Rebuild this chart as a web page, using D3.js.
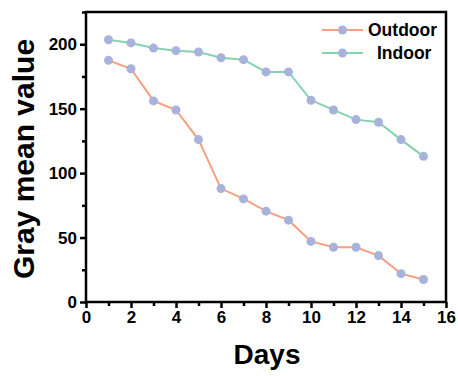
<!DOCTYPE html>
<html>
<head>
<meta charset="utf-8">
<script src="https://cdn.jsdelivr.net/npm/d3@7"></script>
<style>
  html, body { margin: 0; padding: 0; background: #fff; }
  svg { display: block; font-family: "Liberation Sans", Arial, sans-serif; }
</style>
</head>
<body>
<svg id="chart" width="458" height="376"></svg>
<script>
// Gray mean value over 15 days for two storage conditions
const days = [1, 2, 3, 4, 5, 6, 7, 8, 9, 10, 11, 12, 13, 14, 15];
const outdoor = [187.5, 181, 156, 149, 126, 88, 80, 70.5, 63.5, 47, 42.5, 42.5, 36, 22, 17.5];
const indoor = [203.5, 201, 197, 195, 194, 189.5, 188, 178.5, 178.5, 156.5, 149, 141.5, 139.5, 126, 113];
const seriesNames = ["Outdoor", "Indoor"];
const xTicks = [0, 2, 4, 6, 8, 10, 12, 14, 16];
const yTicks = [0, 50, 100, 150, 200];

const lineColors = { Outdoor: "#f5a07e", Indoor: "#87d2ae" };
const markerColor = "#a8b3dc";

const svg = d3.select("#chart");
const plotLeft = 86, plotRight = 446, plotTop = 12, plotBottom = 302;

const x = d3.scaleLinear().domain([0, 16]).range([plotLeft, plotRight]);
const y = d3.scaleLinear().domain([0, 225]).range([plotBottom, plotTop]);

const series = [
  { name: seriesNames[0], values: outdoor },
  { name: seriesNames[1], values: indoor }
];

// Lines and markers
const line = d3.line().x((d, i) => x(days[i])).y(d => y(d));
series.forEach(s => {
  svg.append("path")
    .datum(s.values)
    .attr("d", line)
    .attr("fill", "none")
    .attr("stroke", lineColors[s.name])
    .attr("stroke-width", 2);
  svg.append("g").selectAll("circle")
    .data(s.values)
    .join("circle")
    .attr("cx", (d, i) => x(days[i]))
    .attr("cy", d => y(d))
    .attr("r", 4.5)
    .attr("fill", markerColor);
});

// Frame
svg.append("rect")
  .attr("x", plotLeft).attr("y", plotTop)
  .attr("width", plotRight - plotLeft).attr("height", plotBottom - plotTop)
  .attr("fill", "none").attr("stroke", "#000").attr("stroke-width", 2.5);

// Axes with major ticks
svg.append("g")
  .attr("transform", `translate(0,${plotBottom})`)
  .call(d3.axisBottom(x).tickValues(xTicks).tickSize(6).tickPadding(3).tickFormat(d3.format("d")));
svg.append("g")
  .attr("transform", `translate(${plotLeft},0)`)
  .call(d3.axisLeft(y).tickValues(yTicks).tickSize(6).tickPadding(3).tickFormat(d3.format("d")));

// Minor ticks
svg.append("g")
  .attr("transform", `translate(0,${plotBottom})`)
  .call(d3.axisBottom(x).tickValues(d3.range(1, 16, 2)).tickSize(4).tickFormat(""));
svg.append("g")
  .attr("transform", `translate(${plotLeft},0)`)
  .call(d3.axisLeft(y).tickValues([25, 75, 125, 175, 225]).tickSize(4).tickFormat(""));

svg.selectAll(".domain").remove();
svg.selectAll(".tick line").attr("stroke", "#000").attr("stroke-width", 2.5);
svg.selectAll(".tick text")
  .attr("fill", "#000")
  .style("font-family", "'Liberation Sans', Arial, sans-serif")
  .style("font-size", "17px")
  .style("font-weight", "bold");

// Axis titles
svg.append("text")
  .attr("x", (plotLeft + plotRight) / 2 + 1)
  .attr("y", 364)
  .attr("text-anchor", "middle")
  .style("font-size", "28px").style("font-weight", "bold")
  .text("Days");

svg.append("text")
  .attr("transform", `translate(34,${(plotTop + plotBottom) / 2 + 2}) rotate(-90)`)
  .attr("text-anchor", "middle")
  .style("font-size", "30px").style("font-weight", "bold")
  .text("Gray mean value");

// Legend
const legend = svg.append("g");
const legendRows = [
  { name: seriesNames[0], cy: 30, tx: 368 },
  { name: seriesNames[1], cy: 53, tx: 377 }
];
legendRows.forEach(r => {
  legend.append("line")
    .attr("x1", 322).attr("x2", 363)
    .attr("y1", r.cy).attr("y2", r.cy)
    .attr("stroke", lineColors[r.name]).attr("stroke-width", 2);
  legend.append("circle")
    .attr("cx", 342.5).attr("cy", r.cy).attr("r", 4.5)
    .attr("fill", markerColor);
  legend.append("text")
    .attr("x", r.tx).attr("y", r.cy)
    .attr("dy", "0.36em")
    .style("font-size", "17.5px").style("font-weight", "bold")
    .text(r.name);
});
</script>
</body>
</html>
